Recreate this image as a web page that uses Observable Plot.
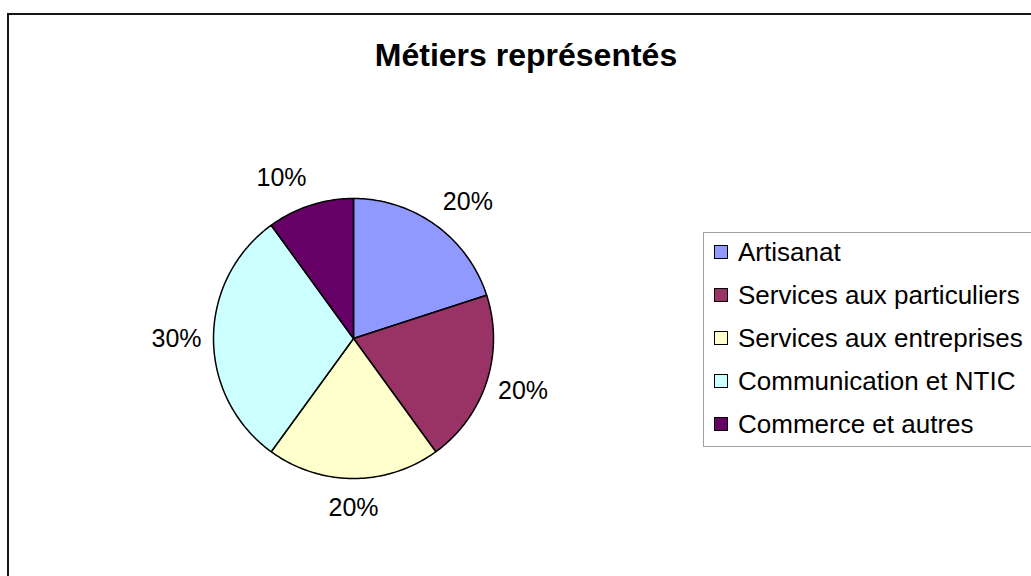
<!DOCTYPE html>
<html>
<head>
<meta charset="utf-8">
<script src="https://cdn.jsdelivr.net/npm/d3@7"></script>
<script src="https://cdn.jsdelivr.net/npm/@observablehq/plot@0.6"></script>
<style>
  body { margin: 0; background: #fff; font-family: "Liberation Sans", Arial, sans-serif; }
  #wrap { position: relative; width: 1031px; height: 576px; overflow: hidden; background: #fff; }
  #frame { position: absolute; left: 7px; top: 13px; width: 1100px; height: 700px; border: 2.5px solid #151515; box-sizing: border-box; }
  #title { position: absolute; left: 0; width: 1052px; top: 37px; text-align: center; font-weight: bold; font-size: 32px; color: #000; }
  #chart { position: absolute; left: 0; top: 0; }
  #legend { position: absolute; left: 703px; top: 232px; width: 400px; height: 215px; border: 1px solid #a0a0a0; box-sizing: border-box; background: #fff; }
  .row { position: absolute; left: 10px; height: 30px; display: flex; align-items: center; font-size: 26px; color: #000; white-space: nowrap; }
  .sw { width: 12px; height: 12px; border: 1px solid #000; margin-right: 10px; flex: none; }
</style>
</head>
<body>
<div id="wrap">
  <div id="frame"></div>
  <div id="title"></div>
  <div id="chart"></div>
  <div id="legend"></div>
</div>
<script>
const title = "Métiers représentés";
const categories = ["Artisanat", "Services aux particuliers", "Services aux entreprises", "Communication et NTIC", "Commerce et autres"];
const values = [20, 20, 20, 30, 10];
const labels = ["20%", "20%", "20%", "30%", "10%"];
const colors = ["#9099FF", "#993366", "#FFFFCC", "#CCFFFF", "#660066"];

document.getElementById("title").textContent = title;

const R = 140; // pie radius in px (layout)
const arcs = d3.pie().sort(null).value(d => d)(values);
const polys = [];
arcs.forEach((a, i) => {
  polys.push({name: categories[i], x: 0, y: 0});
  const n = Math.max(2, Math.ceil((a.endAngle - a.startAngle) / (Math.PI / 180)));
  for (let k = 0; k <= n; k++) {
    const t = a.startAngle + (a.endAngle - a.startAngle) * k / n;
    polys.push({name: categories[i], x: Math.sin(t), y: Math.cos(t)});
  }
});
// label placed just outside the rim, shifted horizontally by half its width toward the outside
const halfW = 25 / R, rimX = 152 / R, rimY = 169 / R;
const labelData = arcs.map((a, i) => {
  const m = (a.startAngle + a.endAngle) / 2;
  const s = Math.sin(m), c = Math.cos(m);
  const sx = Math.abs(s) < 0.1 ? 0 : Math.sign(s);
  return {name: categories[i], text: labels[i], x: rimX * s + sx * halfW, y: rimY * c};
});

const chart = Plot.plot({
  width: 1031,
  height: 576,
  margin: 0,
  style: {background: "transparent", fontFamily: "Liberation Sans, Arial, sans-serif"},
  x: {domain: [-1, 1], range: [353 - R, 353 + R], axis: null},
  y: {domain: [1, -1], range: [338 - R, 338 + R], axis: null},
  color: {domain: categories, range: colors},
  marks: [
    Plot.line(polys, {x: "x", y: "y", z: "name", fill: "name", stroke: "#000", strokeWidth: 1.5, curve: "linear-closed"}),
    Plot.text(labelData, {x: "x", y: "y", text: "text", fontSize: 25, fill: "#000", textAnchor: "middle"})
  ]
});
document.getElementById("chart").appendChild(chart);

const legend = document.getElementById("legend");
categories.forEach((c, i) => {
  const row = document.createElement("div");
  row.className = "row";
  row.style.top = (4 + i * 43) + "px";
  const sw = document.createElement("span");
  sw.className = "sw";
  sw.style.background = colors[i];
  const tx = document.createElement("span");
  tx.textContent = c;
  row.appendChild(sw);
  row.appendChild(tx);
  legend.appendChild(row);
});
</script>
</body>
</html>
